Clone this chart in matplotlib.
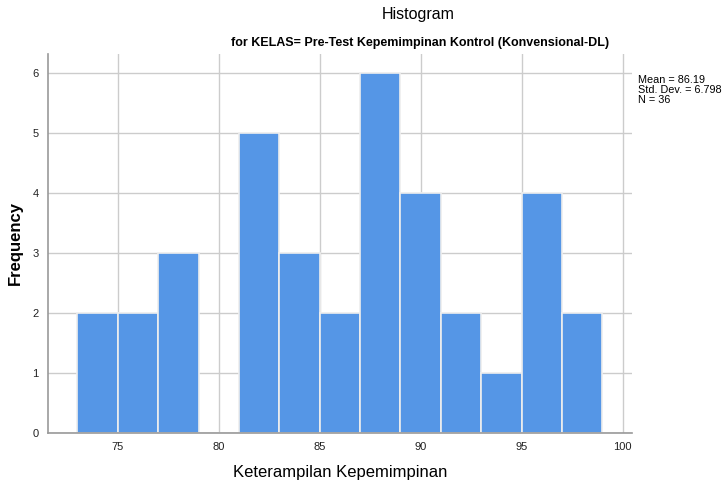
import matplotlib.pyplot as plt

plt.rcParams['font.family'] = ['Liberation Sans', 'DejaVu Sans']

bin_edges = [73, 75, 77, 79, 81, 83, 85, 87, 89, 91, 93, 95, 97, 99]
counts = [2, 2, 3, 0, 5, 3, 2, 6, 4, 2, 1, 4, 2]
x_ticks = [75, 80, 85, 90, 95, 100]
y_ticks = [0, 1, 2, 3, 4, 5, 6]
stats_text = "Mean = 86.19\nStd. Dev. = 6.798\nN = 36"

W, H = 727, 486
fig = plt.figure(figsize=(W / 100, H / 100), dpi=100)
ax = fig.add_axes([48.3 / W, (H - 432.7) / H, (631.7 - 48.3) / W, (432.7 - 54) / H])

lefts = bin_edges[:-1]
widths = [b - a for a, b in zip(bin_edges[:-1], bin_edges[1:])]
ax.bar(lefts, counts, width=widths, align='edge', color='#5596e6',
       edgecolor='#eeeeee', linewidth=1.2, zorder=2)

ax.set_xlim(71.56, 100.45)
ax.set_ylim(0, 6.32)
ax.set_xticks(x_ticks)
ax.set_yticks(y_ticks)
ax.grid(True, color='#cccccc', linewidth=1, zorder=0)
ax.set_axisbelow(True)
for side in ('top', 'right'):
    ax.spines[side].set_visible(False)
for side in ('left', 'bottom'):
    ax.spines[side].set_color('#999999')
    ax.spines[side].set_linewidth(1.2)
ax.tick_params(length=0, labelsize=8, colors='#222222', pad=7)

fig.text(15 / W, 1 - 243 / H, 'Frequency', rotation=90, ha='center', va='center',
         fontsize=12, fontweight='bold')
fig.text(340 / W, 1 - 472 / H, 'Keterampilan Kepemimpinan', ha='center', va='center',
         fontsize=12)

fig.text(418 / W, 1 - 15 / H, 'Histogram', ha='center', va='center', fontsize=11.5)
fig.text(420 / W, 1 - 43 / H, 'for KELAS= Pre-Test Kepemimpinan Kontrol (Konvensional-DL)',
         ha='center', va='center', fontsize=9, fontweight='bold')
fig.text(638 / W, 1 - 75 / H, stats_text, ha='left', va='top', fontsize=7.8,
         linespacing=1.02)

fig.savefig('out.png', dpi=100)
